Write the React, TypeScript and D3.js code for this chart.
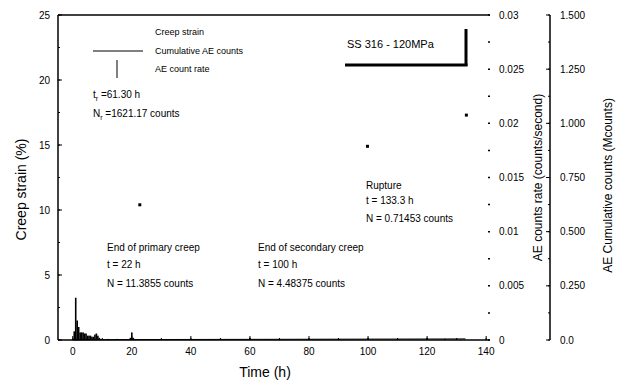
import React from 'react';
import * as d3 from 'd3';

// creep strain markers (end of primary, end of secondary, rupture)
const strainTime = [22.7, 99.8, 133.3];
const strainValue = [10.4, 14.9, 17.3];

// AE count rate (counts/sec)
const rateTime = [0.5, 1, 1.5, 2, 2.5, 3, 3.5, 4, 4.5, 5, 5.5, 6, 6.5, 7, 7.5, 8, 8.5, 9,
  12, 15, 19.5, 20, 20.5, 30, 40, 50, 60, 70, 80, 90, 100, 110, 120, 126, 130];
const rateValue = [0.0008, 0.0039, 0.0018, 0.0012, 0.0007, 0.0007, 0.0007, 0.0006, 0.0006, 0.0004,
  0.0004, 0.0004, 0.0003, 0.0003, 0.0005, 0.0006, 0.0004, 0.0002,
  0.0001, 0.0001, 0.0002, 0.0007, 0.0002, 0.0001, 0.0001, 0.0001, 0.0002, 0.0001, 0.0001, 0.0001,
  0.0002, 0.0001, 0.0002, 0.0001, 0.0001];

// AE cumulative counts
const cumTime = [0, 2, 5, 10, 20, 40, 60, 80, 100, 120, 133];
const cumValue = [0, 0.0005, 0.001, 0.0015, 0.002, 0.0025, 0.003, 0.0035, 0.004, 0.0045, 0.005];

const xTicks = [0, 20, 40, 60, 80, 100, 120, 140];
const strainTicks = [0, 5, 10, 15, 20, 25];
const rateTicks = [0, 0.005, 0.01, 0.015, 0.02, 0.025, 0.03];
const rateLabels = ['0', '0.005', '0.01', '0.015', '0.02', '0.025', '0.03'];
const cumTicks = [0, 0.25, 0.5, 0.75, 1.0, 1.25, 1.5];
const cumLabels = ['0.0', '0.250', '0.500', '0.750', '1.000', '1.250', '1.500'];

const W = 629;
const H = 383;
const left = 58, right = 490, top = 15, bottom = 340;
const axis2X = 550;
const font = '"Liberation Sans", Arial, sans-serif';

const App = () => {
  const x = d3.scaleLinear().domain([-5, 141.3]).range([left, right]);
  const yS = d3.scaleLinear().domain([0, 25]).range([bottom, top]);
  const yR = d3.scaleLinear().domain([0, 0.03]).range([bottom, top]);
  const yC = d3.scaleLinear().domain([0, 1.5]).range([bottom, top]);

  const cumLine = d3.line<number>()
    .x((d, i) => x(cumTime[i]))
    .y(d => yC(d));

  const minorS = d3.range(0, 25.01, 2.5);
  const minorR = d3.range(0, 0.0301, 0.0025);
  const minorC = d3.range(0, 1.501, 0.125);
  const minorX = d3.range(0, 141, 10);

  return (
    <svg width={W} height={H} style={{ position: 'absolute', left: 0, top: 0, background: '#fff' }}
      fontFamily={font}>
      {/* AE count rate bars */}
      {rateTime.map((t, i) => (
        <rect key={'r' + i} x={x(t) - 0.8} y={yR(rateValue[i])} width={1.6}
          height={bottom - yR(rateValue[i])} fill="#000" />
      ))}
      {/* cumulative AE */}
      <path d={cumLine(cumValue) || ''} fill="none" stroke="#000" strokeWidth={1} />
      {/* creep strain markers */}
      {strainTime.map((t, i) => (
        <rect key={'s' + i} x={x(t) - 1.5} y={yS(strainValue[i]) - 1.5} width={3} height={3} fill="#000" />
      ))}

      {/* frame: top, left, bottom */}
      <line x1={left} x2={right} y1={top} y2={top} stroke="#000" strokeWidth={1.5} />
      <line x1={left} x2={left} y1={top} y2={bottom} stroke="#000" strokeWidth={1.5} />
      <line x1={left} x2={right} y1={bottom} y2={bottom} stroke="#000" strokeWidth={1.5} />

      {/* left axis */}
      {minorS.map((v, i) => (
        <line key={'ms' + i} x1={left} x2={left + 2} y1={yS(v)} y2={yS(v)} stroke="#000" />
      ))}
      {strainTicks.map(v => (
        <g key={'s' + v}>
          <line x1={left} x2={left + 4} y1={yS(v)} y2={yS(v)} stroke="#000" />
          <text x={left - 8} y={yS(v)} dy="0.35em" textAnchor="end" fontSize={10}>{v}</text>
        </g>
      ))}
      <text transform={`translate(26,${(top + bottom) / 2 + 12}) rotate(-90)`} textAnchor="middle"
        fontSize={14}>Creep strain (%)</text>

      {/* bottom axis */}
      {minorX.map((v, i) => (
        <line key={'mx' + i} x1={x(v)} x2={x(v)} y1={bottom} y2={bottom - 2} stroke="#000" />
      ))}
      {xTicks.map(v => (
        <g key={'x' + v}>
          <line x1={x(v)} x2={x(v)} y1={bottom} y2={bottom - 4} stroke="#000" />
          <text x={x(v)} y={bottom + 15} textAnchor="middle" fontSize={10}>{v}</text>
        </g>
      ))}
      <text x={265} y={377} textAnchor="middle" fontSize={14}>Time (h)</text>

      {/* AE count rate axis at plot right edge */}
      {minorR.map((v, i) => (
        <line key={'mr' + i} x1={right - 2} x2={right} y1={yR(v)} y2={yR(v)} stroke="#000" strokeWidth={1.5} />
      ))}
      {rateTicks.map((v, i) => (
        <text key={'r' + i} x={right + 9} y={yR(v)} dy="0.35em" fontSize={10}>{rateLabels[i]}</text>
      ))}
      <text transform={`translate(542,${(top + bottom) / 2}) rotate(-90)`} textAnchor="middle"
        fontSize={12}>AE counts rate (counts/second)</text>

      {/* cumulative counts axis */}
      <line x1={axis2X} x2={axis2X} y1={top} y2={bottom} stroke="#000" strokeWidth={1.5} />
      {minorC.map((v, i) => (
        <line key={'mc' + i} x1={axis2X - 2} x2={axis2X} y1={yC(v)} y2={yC(v)} stroke="#000" />
      ))}
      {cumTicks.map((v, i) => (
        <g key={'c' + i}>
          <line x1={axis2X - 4} x2={axis2X} y1={yC(v)} y2={yC(v)} stroke="#000" />
          <text x={axis2X + 10} y={yC(v)} dy="0.35em" fontSize={10}>{cumLabels[i]}</text>
        </g>
      ))}
      <text transform={`translate(612,${(top + bottom) / 2 + 8}) rotate(-90)`} textAnchor="middle"
        fontSize={12}>AE Cumulative counts (Mcounts)</text>

      {/* legend */}
      <text x={155} y={35} fontSize={9}>Creep strain</text>
      <line x1={93} x2={143} y1={51} y2={51} stroke="#000" />
      <text x={155} y={54} fontSize={9}>Cumulative AE counts</text>
      <line x1={117} x2={117} y1={60} y2={78} stroke="#000" />
      <text x={155} y={72} fontSize={9}>AE count rate</text>

      {/* specimen box */}
      <text x={347} y={48} fontSize={11}>SS 316 - 120MPa</text>
      <line x1={466} x2={466} y1={29} y2={66} stroke="#000" strokeWidth={3} />
      <line x1={345} x2={467.5} y1={65} y2={65} stroke="#000" strokeWidth={3} />

      {/* annotations */}
      <text x={93} y={98} fontSize={10}>t<tspan fontSize={7} dy={3}>r</tspan><tspan dy={-3}> =61.30 h</tspan></text>
      <text x={93} y={117} fontSize={10}>N<tspan fontSize={7} dy={3}>r</tspan><tspan dy={-3}> =1621.17 counts</tspan></text>

      <text fontSize={10}>
        <tspan x={107} y={251}>End of primary creep</tspan>
        <tspan x={107} y={268}>t = 22 h</tspan>
        <tspan x={107} y={287}>N = 11.3855 counts</tspan>
      </text>
      <text fontSize={10}>
        <tspan x={258} y={251}>End of secondary creep</tspan>
        <tspan x={258} y={268}>t = 100 h</tspan>
        <tspan x={258} y={287}>N = 4.48375 counts</tspan>
      </text>
      <text fontSize={10}>
        <tspan x={366} y={189}>Rupture</tspan>
        <tspan x={366} y={204}>t = 133.3 h</tspan>
        <tspan x={366} y={222}>N = 0.71453 counts</tspan>
      </text>
    </svg>
  );
};

export default App;
